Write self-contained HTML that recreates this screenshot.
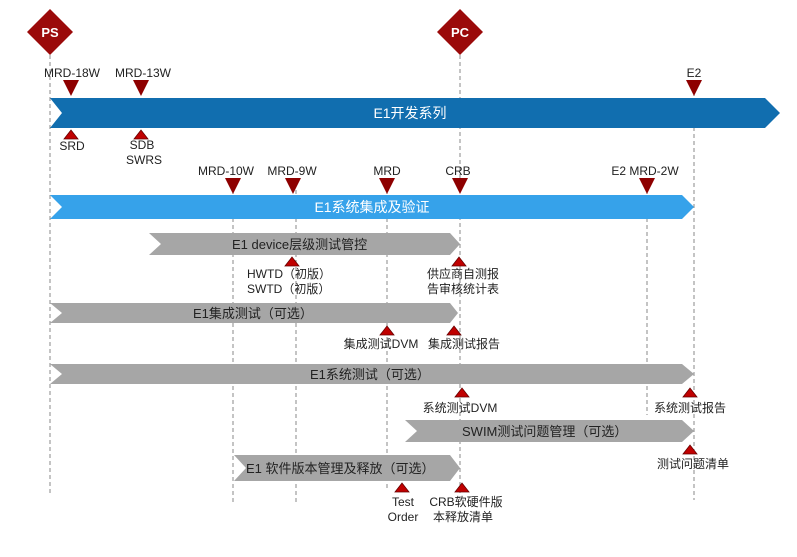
<!DOCTYPE html>
<html><head><meta charset="utf-8"><style>
html,body{margin:0;padding:0;background:#fff;}
svg{display:block;}
text{font-family:"Liberation Sans","Noto Sans CJK SC",sans-serif;font-size:12px;fill:#222;}
.w{fill:#fff;font-size:14px;}
.g{fill:#222;font-size:13px;}
</style></head><body>
<svg width="797" height="557" viewBox="0 0 797 557" xmlns="http://www.w3.org/2000/svg">
<g stroke="#888" stroke-width="1" stroke-dasharray="4,3" fill="none">
<line x1="50" y1="55" x2="50" y2="495"/>
<line x1="233" y1="190" x2="233" y2="505"/>
<line x1="296" y1="190" x2="296" y2="505"/>
<line x1="387" y1="190" x2="387" y2="490"/>
<line x1="460" y1="55" x2="460" y2="500"/>
<line x1="647" y1="190" x2="647" y2="415"/>
<line x1="694" y1="92" x2="694" y2="500"/>
</g>
<!-- bars -->
<polygon points="50,98 765,98 780,113 765,128 50,128 62,113" fill="#116EAF"/>
<polygon points="50,195 682,195 694,207 682,219 50,219 62,207" fill="#36A2EA"/>
<polygon points="149,233 450,233 460,244 450,255 149,255 161,244" fill="#A6A6A6"/>
<polygon points="50,303 450,303 458,313 450,323 50,323 62,313" fill="#A6A6A6"/>
<polygon points="50,364 682,364 694,374 682,384 50,384 62,374" fill="#A6A6A6"/>
<polygon points="405,420 682,420 694,431 682,442 405,442 417,431" fill="#A6A6A6"/>
<polygon points="234,455 450,455 460,468 450,481 234,481 246,468" fill="#A6A6A6"/>
<text class="w" x="410" y="118" text-anchor="middle">E1开发系列</text>
<text class="w" x="372" y="212" text-anchor="middle">E1系统集成及验证</text>
<text class="g" x="232" y="249">E1 device层级测试管控</text>
<text class="g" x="193" y="318">E1集成测试（可选）</text>
<text class="g" x="310" y="379">E1系统测试（可选）</text>
<text class="g" x="462" y="436">SWIM测试问题管理（可选）</text>
<text class="g" x="246" y="473">E1 软件版本管理及释放（可选）</text>
<!-- diamonds -->
<polygon points="50,9 73,32 50,55 27,32" fill="#9B0A0A"/>
<text x="50" y="37" text-anchor="middle" style="fill:#fff;font-weight:bold;font-size:13px">PS</text>
<polygon points="460,9 483,32 460,55 437,32" fill="#9B0A0A"/>
<text x="460" y="37" text-anchor="middle" style="fill:#fff;font-weight:bold;font-size:13px">PC</text>
<!-- down triangles -->
<g fill="#8E0000">
<polygon points="63,80 79,80 71,96"/>
<polygon points="133,80 149,80 141,96"/>
<polygon points="686,80 702,80 694,96"/>
<polygon points="225,178 241,178 233,194"/>
<polygon points="285,178 301,178 293,194"/>
<polygon points="379,178 395,178 387,194"/>
<polygon points="452,178 468,178 460,194"/>
<polygon points="639,178 655,178 647,194"/>
</g>
<text x="72" y="77" text-anchor="middle">MRD-18W</text>
<text x="143" y="77" text-anchor="middle">MRD-13W</text>
<text x="694" y="77" text-anchor="middle">E2</text>
<text x="226" y="175" text-anchor="middle">MRD-10W</text>
<text x="292" y="175" text-anchor="middle">MRD-9W</text>
<text x="387" y="175" text-anchor="middle">MRD</text>
<text x="458" y="175" text-anchor="middle">CRB</text>
<text x="645" y="175" text-anchor="middle">E2 MRD-2W</text>
<!-- up triangles -->
<g fill="#C00000" stroke="#600" stroke-width="0.8">
<polygon points="64,139 78,139 71,130"/>
<polygon points="134,139 148,139 141,130"/>
<polygon points="285,266 299,266 292,257"/>
<polygon points="452,266 466,266 459,257"/>
<polygon points="380,335 394,335 387,326"/>
<polygon points="447,335 461,335 454,326"/>
<polygon points="455,397 469,397 462,388"/>
<polygon points="683,397 697,397 690,388"/>
<polygon points="683,454 697,454 690,445"/>
<polygon points="395,492 409,492 402,483"/>
<polygon points="455,492 469,492 462,483"/>
</g>
<text x="72" y="150" text-anchor="middle">SRD</text>
<text x="142" y="149" text-anchor="middle">SDB</text>
<text x="144" y="164" text-anchor="middle">SWRS</text>
<text x="247" y="278">HWTD（初版）</text>
<text x="247" y="293">SWTD（初版）</text>
<text x="463" y="278" text-anchor="middle">供应商自测报</text>
<text x="463" y="293" text-anchor="middle">告审核统计表</text>
<text x="381" y="348" text-anchor="middle">集成测试DVM</text>
<text x="464" y="348" text-anchor="middle">集成测试报告</text>
<text x="460" y="412" text-anchor="middle">系统测试DVM</text>
<text x="690" y="412" text-anchor="middle">系统测试报告</text>
<text x="693" y="468" text-anchor="middle">测试问题清单</text>
<text x="403" y="506" text-anchor="middle">Test</text>
<text x="403" y="521" text-anchor="middle">Order</text>
<text x="466" y="506" text-anchor="middle">CRB软硬件版</text>
<text x="463" y="521" text-anchor="middle">本释放清单</text>
</svg>
</body></html>
